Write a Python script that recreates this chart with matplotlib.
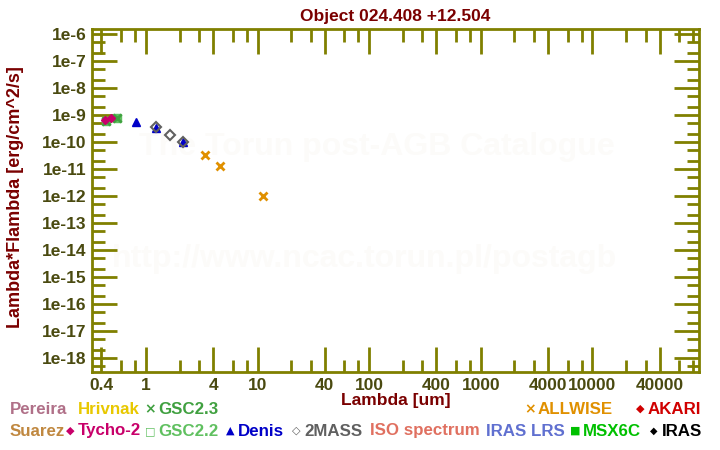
import numpy as np
import matplotlib
matplotlib.use('Agg')
import matplotlib.pyplot as plt
from matplotlib.ticker import FixedLocator, NullFormatter

plt.rcParams['font.family'] = ['Liberation Sans', 'DejaVu Sans']
plt.rcParams['font.weight'] = 'bold'

# datos
tycho_wl = [0.43, 0.49]
tycho_f = [6.4e-10, 7.9e-10]
gsc23_wl = [0.44, 0.55]
gsc23_f = [6.2e-10, 7.6e-10]
gsc22_wl = [0.44, 0.55]
gsc22_f = [6.2e-10, 7.6e-10]
denis_wl = [0.81, 1.23, 2.15]
denis_f = [5.6e-10, 3.3e-10, 9.8e-11]
tmass_wl = [1.24, 1.65, 2.15]
tmass_f = [3.5e-10, 1.8e-10, 9.8e-11]
allwise_wl = [3.35, 4.6, 11.3]
allwise_f = [3.2e-11, 1.26e-11, 9.7e-13]

xticks_lab = [0.4, 1, 4, 10, 40, 100, 400, 1000, 4000, 10000, 40000]

olive = '#808000'
ticktxt = '#4a4a10'
darkred = '#7a0000'

fig = plt.figure(figsize=(7.2, 4.5), dpi=100)
ax = fig.add_axes([0.1278, 0.1733, 0.8430, 0.7623])

ax.set_xscale('log')
ax.set_yscale('log')
ax.set_xlim(0.329, 9.0e4)
ax.set_ylim(10**-18.52, 10**-5.815)

# marca de agua
ax.text(0.47, 0.655, 'The Torun post-AGB Catalogue', transform=ax.transAxes,
        ha='center', va='center', fontsize=23, color='#fcfbf9', zorder=0)
ax.text(0.448, 0.33, 'http://www.ncac.torun.pl/postagb', transform=ax.transAxes,
        ha='center', va='center', fontsize=23, color='#fcfbf9', zorder=0)

ax.plot(gsc22_wl, gsc22_f, 's', ms=6, mfc='#60c060', mec='#60c060', ls='none', zorder=3)
ax.plot(gsc23_wl, gsc23_f, 'x', ms=6, mew=2, color='#40a040', ls='none', zorder=3)
ax.plot(tycho_wl, tycho_f, 'D', ms=4.5, color='#c8006a', ls='none', zorder=4)
ax.plot(denis_wl, denis_f, '^', ms=6, color='#0000c8', ls='none', zorder=3)
ax.plot(tmass_wl, tmass_f, 'D', ms=5, mfc='none', mec='#606060', mew=1.5, ls='none', zorder=4)
ax.plot(allwise_wl, allwise_f, 'x', ms=5.5, mew=2, color='#e09000', ls='none', zorder=3)

# ejes y ticks
for s in ax.spines.values():
    s.set_color(olive)
    s.set_linewidth(2)

xmaj = []
xmin = []
for d in range(-1, 5):
    for m in [1, 2, 3, 4, 6, 8]:
        v = m * 10.0**d
        if m in (1, 4):
            xmaj.append(v)
        else:
            xmin.append(v)
ax.xaxis.set_major_locator(FixedLocator(xmaj))
ax.xaxis.set_minor_locator(FixedLocator(xmin))
ax.set_xticklabels(['%g' % v if v in xticks_lab else '' for v in xmaj])
ax.xaxis.set_minor_formatter(NullFormatter())

ymaj = [10.0**e for e in range(-19, -4)]
ymin = []
for e in range(-19, -4):
    ymin.append(2 * 10.0**e)
    ymin.append(5 * 10.0**e)
ax.yaxis.set_major_locator(FixedLocator(ymaj))
ax.yaxis.set_minor_locator(FixedLocator(ymin))
ax.set_yticklabels(['1e%d' % e for e in range(-19, -4)])
ax.yaxis.set_minor_formatter(NullFormatter())

ax.tick_params(which='both', direction='in', top=True, right=True, color=olive,
               width=2, labelcolor=ticktxt, labelsize=12.5)
ax.tick_params(which='major', length=18, pad=4)
ax.tick_params(which='minor', length=9)
for lab in ax.get_xticklabels() + ax.get_yticklabels():
    lab.set_fontweight('bold')

ax.set_title('Object 024.408 +12.504', color=darkred, fontsize=12.5, fontweight='bold', pad=6)
ax.set_xlabel('Lambda [um]', color=darkred, fontsize=12.5, fontweight='bold', labelpad=0)
fig.text(0.021, 0.562, 'Lambda*Flambda [erg/cm^2/s]', rotation=90, ha='center', va='center',
         color=darkred, fontsize=13, fontweight='bold')

# leyenda manual
def leyenda(x, y, sym, txt, col, symsize=9):
    if sym:
        fig.text(x / 720, 1 - y / 450, sym, color=col, fontsize=symsize, ha='center', va='center',
                 family='DejaVu Sans', fontweight='bold')
    fig.text((x + (8 if sym else 0)) / 720, 1 - y / 450, txt, color=col, fontsize=12.2,
             ha='left', va='center', fontweight='bold')

leyenda(10, 409, None, 'Pereira', '#b07088')
leyenda(78, 409, None, 'Hrivnak', '#e8c800')
leyenda(150, 409, '×', 'GSC2.3', '#40a040', 10)
leyenda(530, 409, '×', 'ALLWISE', '#e09000', 10)
leyenda(640, 409, '◆', 'AKARI', '#d00000', 8)
leyenda(10, 431, None, 'Suarez', '#c08840')
leyenda(70, 431, '◆', 'Tycho-2', '#c8006a', 8)
leyenda(150, 431, '□', 'GSC2.2', '#60c060', 8)
leyenda(230, 431, '▲', 'Denis', '#0000c8', 8)
leyenda(296, 431, '◇', '2MASS', '#606060', 8)
leyenda(370, 431, None, 'ISO spectrum', '#e07060')
leyenda(486, 431, None, 'IRAS LRS', '#6070d0')
leyenda(575, 431, '■', 'MSX6C', '#00c000', 8)
leyenda(654, 431, '◆', 'IRAS', '#000000', 7)

fig.savefig('out.png', dpi=100)
